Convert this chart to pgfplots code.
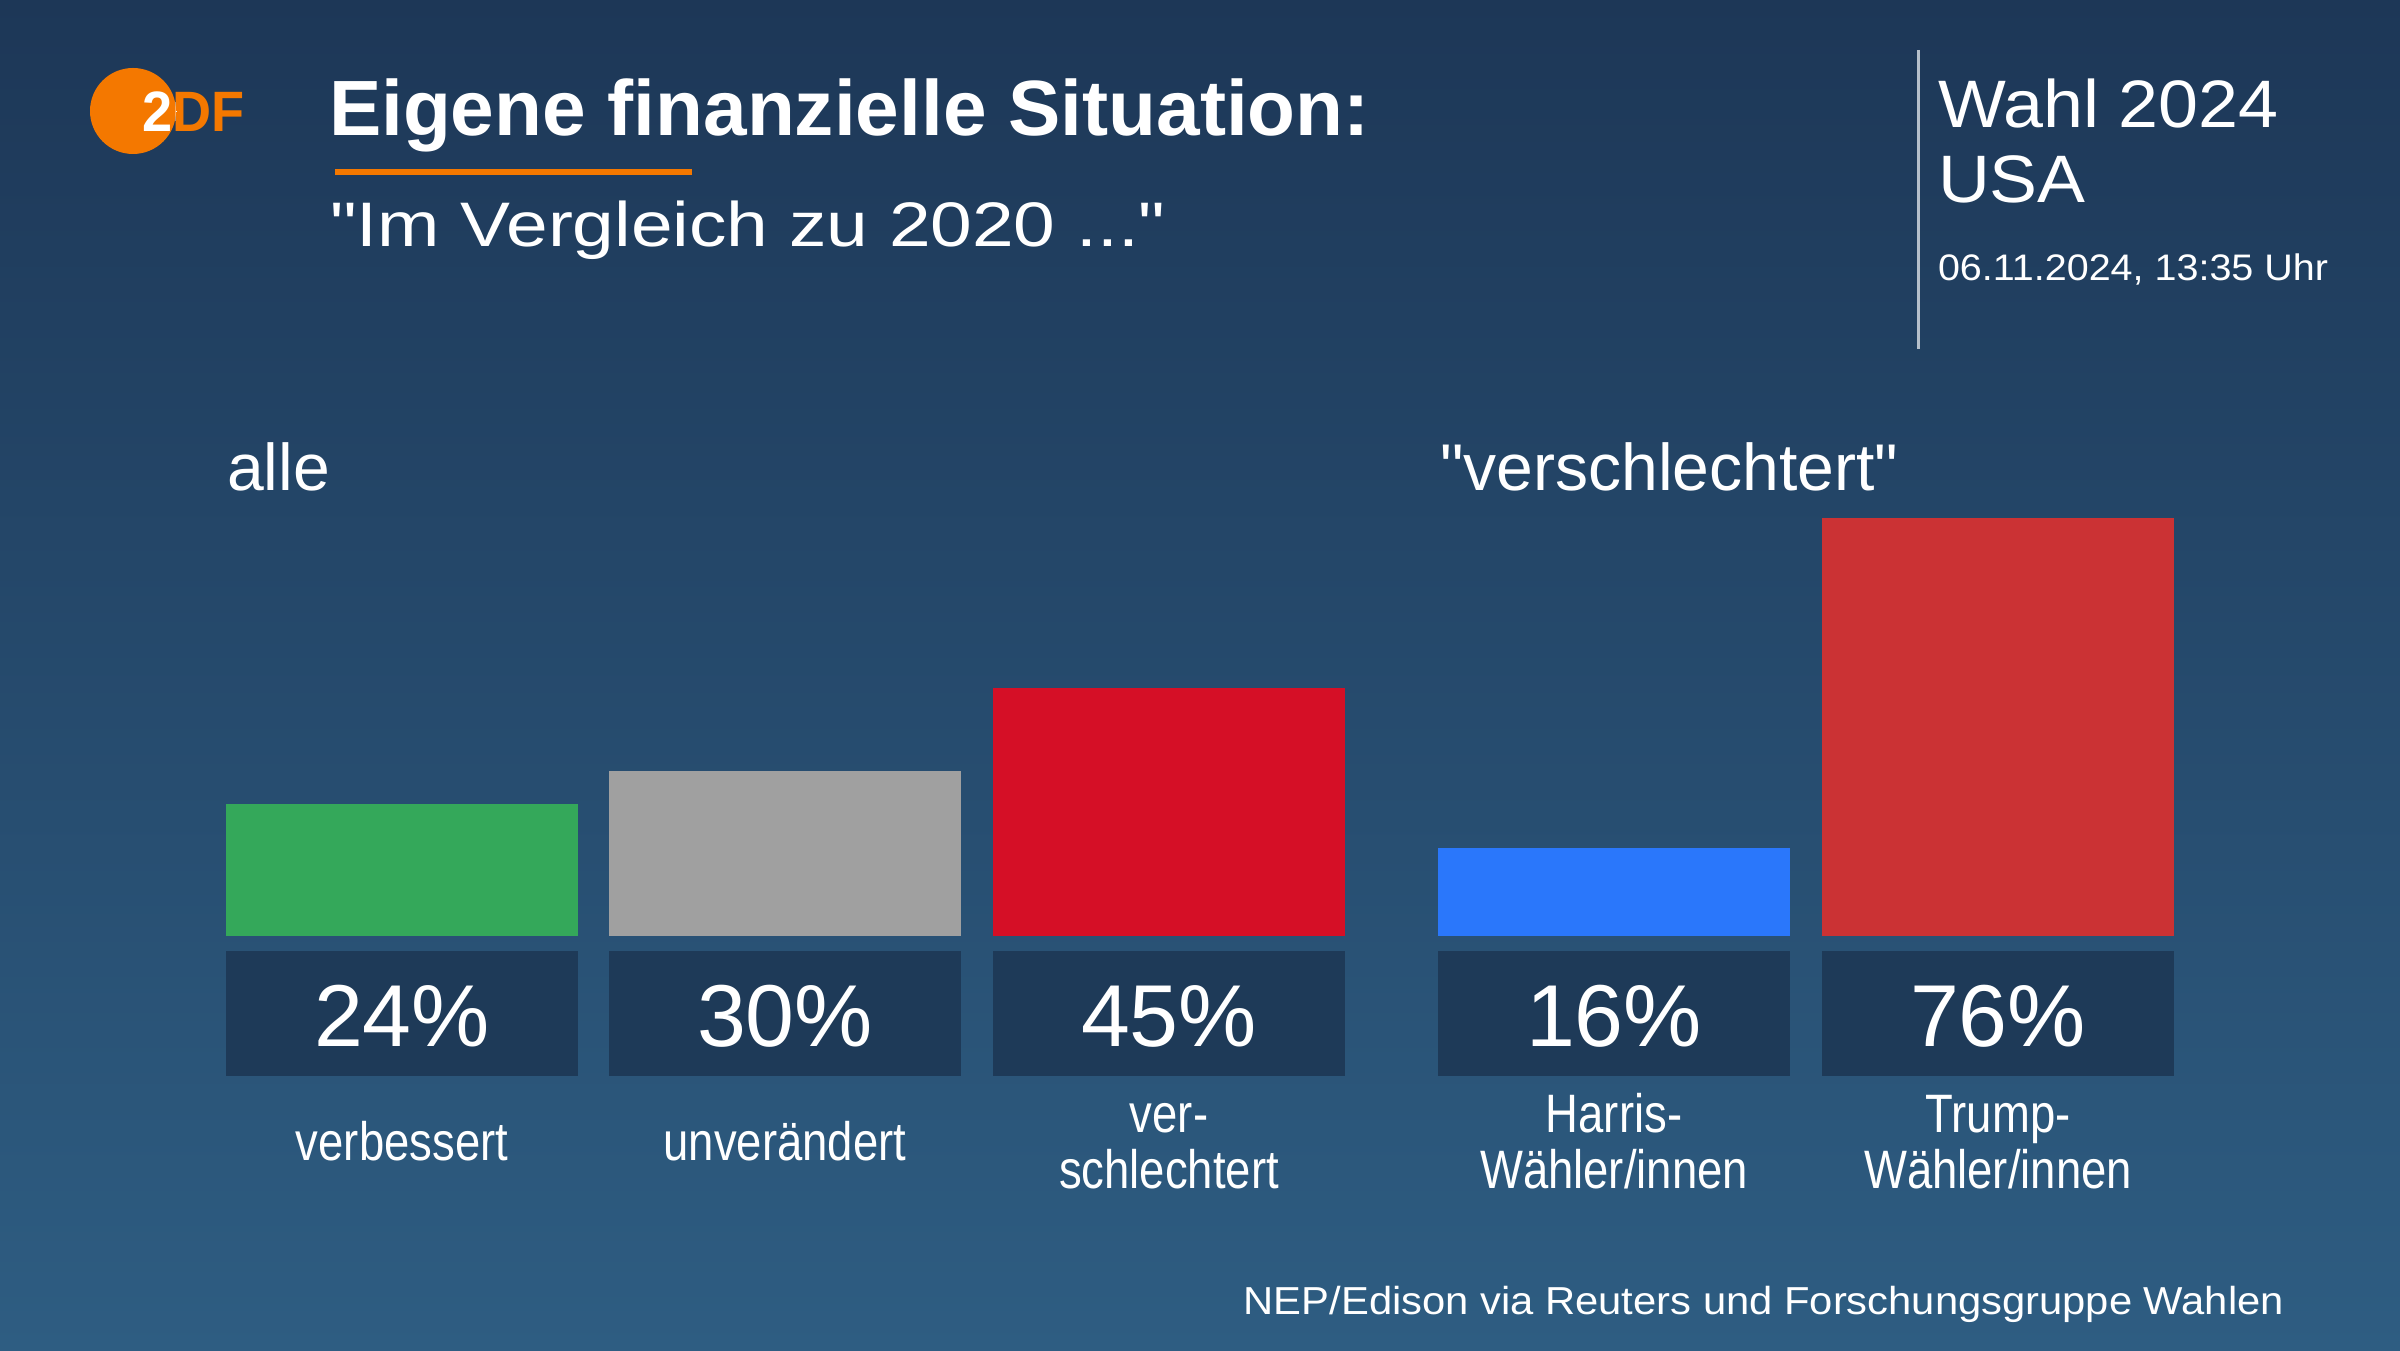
\documentclass[border=0pt]{standalone}
\usepackage{pgfplots}
\pgfplotsset{compat=1.18}
\usepackage{fontspec}
\setmainfont{Liberation Sans}
\newfontfamily\plainf{Liberation Sans}
\newfontfamily\cond[FakeStretch=0.84]{Liberation Sans}
\newfontfamily\wide[FakeStretch=1.07]{Liberation Sans}
\newfontfamily\subf[FakeStretch=1.19]{Liberation Sans}
\newfontfamily\logof[FakeStretch=0.95]{Liberation Sans}
\definecolor{bgtop}{HTML}{1D3757}
\definecolor{bgbot}{HTML}{2E5D82}
\definecolor{boxc}{HTML}{1E3A58}
\definecolor{cgreen}{HTML}{34A85A}
\definecolor{cgray}{HTML}{A0A0A0}
\definecolor{cred}{HTML}{D50F26}
\definecolor{cblue}{HTML}{2A77FB}
\definecolor{ctrump}{HTML}{CB3234}
\definecolor{zdf}{HTML}{F47800}
\definecolor{vline}{HTML}{B5BFCA}
\newcommand{\qd}{\symbol{34}}
\begin{document}
\begin{tikzpicture}
\begin{scope}[x=0.1mm,y=0.1mm]
\shade[top color=bgtop,bottom color=bgbot] (0,0) rectangle (2400,1350);
\useasboundingbox (0,0) rectangle (2400,1350);
\end{scope}
% bars
\begin{axis}[at={(0,0)},anchor=south west,width=240mm,height=135mm,scale only axis,
  xmin=0,xmax=2400,ymin=-75.2727,ymax=170.1818,hide axis,clip=false,
  ybar,bar width=352]
\addplot[ybar,bar shift=0pt,fill=cgreen,draw=none] coordinates {(402,24)};
\addplot[ybar,bar shift=0pt,fill=cgray,draw=none] coordinates {(785,30)};
\addplot[ybar,bar shift=0pt,fill=cred,draw=none] coordinates {(1169,45)};
\addplot[ybar,bar shift=0pt,fill=cblue,draw=none] coordinates {(1614,16)};
\addplot[ybar,bar shift=0pt,fill=ctrump,draw=none] coordinates {(1998,76)};
\end{axis}
\begin{scope}[x=0.1mm,y=0.1mm,every node/.style={inner sep=0pt,outer sep=0pt,text=white}]
% logo
\fill[zdf] (133,1239) circle[radius=43];
\node[anchor=base west,text=zdf] at (142,1218) {\logof\bfseries\fontsize{16.2pt}{18pt}\selectfont 2DF};
\begin{scope}
\clip (133,1239) circle[radius=43];
\node[anchor=base west,text=white] at (142,1218) {\logof\bfseries\fontsize{16.2pt}{18pt}\selectfont 2DF};
\end{scope}
% titles
\node[anchor=base west] at (329,1214) {\bfseries\fontsize{22.3pt}{26pt}\selectfont Eigene finanzielle Situation:};
\fill[zdf] (335,1181) rectangle (692,1175);
\node[anchor=base west] at (330,1103) {\subf\fontsize{17.9pt}{21pt}\selectfont \qd Im Vergleich zu 2020 ...\qd};
% top right
\draw[vline,line width=0.3mm] (1918,1300) -- (1918,1001);
\node[anchor=base west] at (1938,1222) {\wide\fontsize{19.1pt}{22pt}\selectfont Wahl 2024};
\node[anchor=base west] at (1938,1147) {\wide\fontsize{19.1pt}{22pt}\selectfont USA};
\node[anchor=base west] at (1938,1069) {\wide\fontsize{10.5pt}{12pt}\selectfont 06.11.2024, 13:35 Uhr};
% group labels
\node[anchor=base west] at (227,859) {\plainf\fontsize{18.8pt}{22pt}\selectfont alle};
\node[anchor=base west] at (1440,859) {\plainf\fontsize{18.8pt}{22pt}\selectfont \qd verschlechtert\qd};
% value boxes
\foreach \x/\v in {402/24,785/30,1169/45,1614/16,1998/76}{
  \fill[boxc] (\x-176,399) rectangle (\x+176,274);
  \node[anchor=base] at (\x,303) {\fontsize{25pt}{30pt}\selectfont \v\%};
}
% category labels
\node[anchor=base] at (402,189) {\cond\fontsize{15.4pt}{18pt}\selectfont verbessert};
\node[anchor=base] at (785,189) {\cond\fontsize{15.4pt}{18pt}\selectfont unverändert};
\node[anchor=base] at (1169,217) {\cond\fontsize{15.4pt}{18pt}\selectfont ver-};
\node[anchor=base] at (1169,161) {\cond\fontsize{15.4pt}{18pt}\selectfont schlechtert};
\node[anchor=base] at (1614,217) {\cond\fontsize{15.4pt}{18pt}\selectfont Harris-};
\node[anchor=base] at (1614,161) {\cond\fontsize{15.4pt}{18pt}\selectfont Wähler/innen};
\node[anchor=base] at (1998,217) {\cond\fontsize{15.4pt}{18pt}\selectfont Trump-};
\node[anchor=base] at (1998,161) {\cond\fontsize{15.4pt}{18pt}\selectfont Wähler/innen};
% footer
\node[anchor=base east] at (2284,35) {\wide\fontsize{11.1pt}{13pt}\selectfont NEP/Edison via Reuters und Forschungsgruppe Wahlen};
\end{scope}
\end{tikzpicture}
\end{document}
